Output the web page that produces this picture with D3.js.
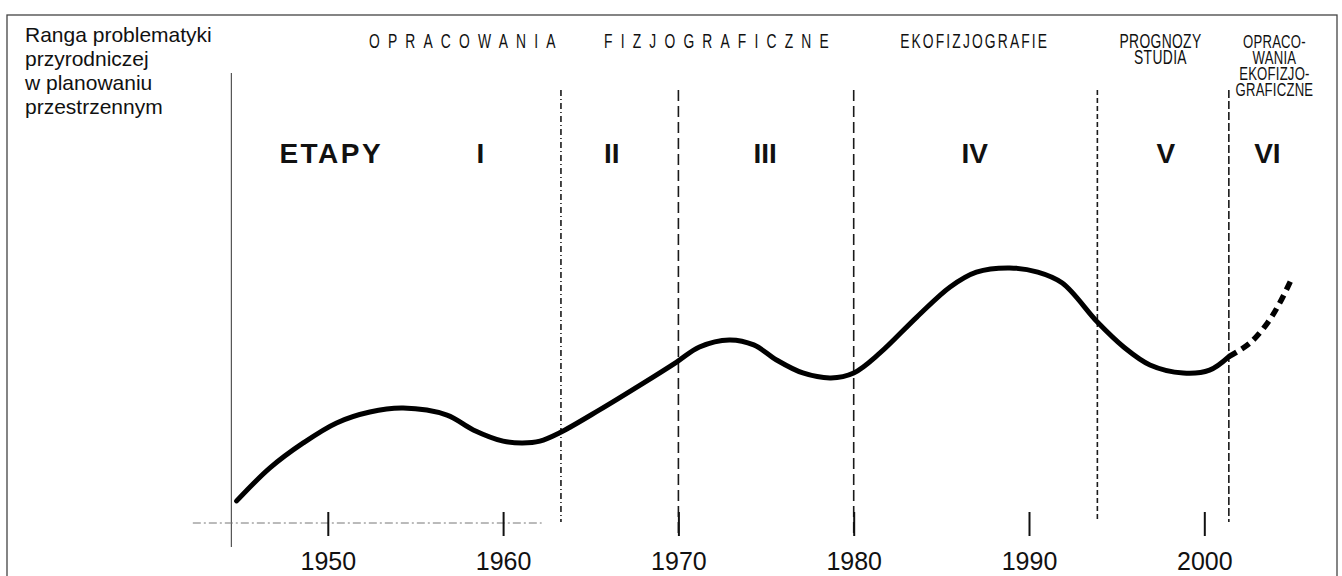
<!DOCTYPE html>
<html>
<head>
<meta charset="utf-8">
<script src="https://cdn.jsdelivr.net/npm/d3@7"></script>
<style>
  body { margin: 0; background: #fff; }
  svg { display: block; }
  text { font-family: "Liberation Sans", Arial, sans-serif; fill: #111; }
</style>
</head>
<body>
<div id="chart"></div>
<script>
// decades on the time axis
const decades = [1950, 1960, 1970, 1980, 1990, 2000];
// years where one stage ends and the next begins
const stageBounds = [1963.3, 1970, 1980, 1993.9, 2001.4];
const stageNames = ["ETAPY", "I", "II", "III", "IV", "V", "VI"];
const stageCenters = [1950.2, 1958.7, 1966.2, 1974.95, 1986.9, 1997.8, 2003.6];

// rank of nature issues in spatial planning (relative, 0-100)
const trendYears = [1944.8, 1946.7, 1948.6, 1950.5, 1952.4, 1954.3, 1956.8, 1958.3, 1960.0, 1961.1,
  1962.1, 1963.2, 1965.5, 1968.0, 1969.9, 1971.2, 1972.9, 1974.3, 1975.6, 1977.1, 1978.7, 1980.0,
  1981.5, 1983.6, 1985.5, 1987.0, 1988.9, 1990.5, 1991.9, 1993.9, 1995.4, 1996.9, 1998.8, 2000.3, 2001.4];
const trendValues = [8.5, 21.2, 30.8, 38.5, 42.7, 44.2, 41.5, 35.8, 31.5, 30.8,
  31.5, 34.6, 43.5, 53.8, 61.9, 67.7, 70.4, 68.5, 62.7, 57.7, 55.8, 57.7,
  65.4, 79.2, 90.8, 96.5, 98.1, 96.5, 92.3, 77.3, 67.7, 60.8, 57.7, 58.8, 64.0];
const forecastYears = [2001.4, 2002.6, 2003.6, 2004.3, 2005.0];
const forecastValues = [64.0, 69.2, 76.9, 84.6, 94.2];

const headerTexts = [["OPRACOWANIA"], ["FIZJOGRAFICZNE"], ["EKOFIZJOGRAFIE"],
  ["PROGNOZY", "STUDIA"], ["OPRACO-", "WANIA", "EKOFIZJO-", "GRAFICZNE"]];
const headerCenters = [1957.9, 1972.4, 1986.9, 1997.5, 2004.0];
const yLabel = ["Ranga problematyki", "przyrodniczej", "w planowaniu", "przestrzennym"];

const width = 1342, height = 576;

const svg = d3.select("#chart").append("svg")
  .attr("width", width)
  .attr("height", height);

const x = d3.scaleLinear().domain([1940, 2010]).range([152.5, 1379.6]);
const y = d3.scaleLinear().domain([0, 100]).range([523, 263]);

// frame
svg.append("rect")
  .attr("x", 7).attr("y", 15)
  .attr("width", 1330).attr("height", 600)
  .attr("fill", "none").attr("stroke", "#444").attr("stroke-width", 1.3);

// y label
svg.append("text")
  .attr("x", 25).attr("y", 42)
  .style("font-size", "21px")
  .selectAll("tspan")
  .data(yLabel)
  .enter().append("tspan")
  .attr("x", 25)
  .attr("dy", (d, i) => i ? 24 : 0)
  .text(d => d);

// vertical axis line
svg.append("line")
  .attr("x1", x(1944.5)).attr("x2", x(1944.5))
  .attr("y1", 73).attr("y2", 547)
  .attr("stroke", "#555").attr("stroke-width", 1.2);

// horizontal axis, only drawn on the left part
svg.append("line")
  .attr("x1", x(1942.3)).attr("x2", x(1962.2))
  .attr("y1", 523).attr("y2", 523)
  .attr("stroke", "#777").attr("stroke-width", 1)
  .attr("stroke-dasharray", "8,3,2,3");

// stage boundaries
const boundDash = ["6,3,1,3", "11,5", "11,5", "5,3", "8,3"];
const boundEnd = [522, 537, 537, 522, 522];
svg.selectAll(".bound")
  .data(stageBounds)
  .enter().append("line")
  .attr("class", "bound")
  .attr("x1", d => x(d)).attr("x2", d => x(d))
  .attr("y1", 90).attr("y2", (d, i) => boundEnd[i])
  .attr("stroke", "#1a1a1a").attr("stroke-width", 1.6)
  .attr("stroke-dasharray", (d, i) => boundDash[i]);

// time axis
const axis = svg.append("g")
  .attr("transform", "translate(0,512)")
  .call(d3.axisBottom(x).tickValues(decades).tickFormat(d3.format("d")).tickSize(24).tickPadding(16));
axis.select(".domain").remove();
axis.selectAll(".tick line").attr("stroke", "#111").attr("stroke-width", 2);
axis.selectAll(".tick text")
  .style("font-size", "25px")
  .style("font-family", "'Liberation Sans', Arial, sans-serif")
  .attr("fill", "#111");

// header texts (narrow lettering)
const headerSpacing = [11.5, 11.5, 3, 0.5, 0.3];
const headerLine = 16;
headerTexts.forEach((lines, gi) => {
  lines.forEach((t, li) => {
    svg.append("text")
      .attr("transform", `translate(${x(headerCenters[gi])},${48 + li * headerLine}) scale(0.71,1)`)
      .attr("text-anchor", "middle")
      .style("font-size", gi === 4 ? "18.5px" : "19.5px")
      .style("letter-spacing", headerSpacing[gi] + "px")
      .text(t);
  });
});

// stage names
svg.selectAll(".stage")
  .data(stageNames)
  .enter().append("text")
  .attr("class", "stage")
  .attr("x", (d, i) => x(stageCenters[i]))
  .attr("y", 163)
  .attr("text-anchor", "middle")
  .style("font-size", "28px")
  .style("font-weight", "bold")
  .style("letter-spacing", (d, i) => i ? "0px" : "2.5px")
  .text(d => d);

// trend curve
const line = d3.line()
  .x(d => x(d[0]))
  .y(d => y(d[1]))
  .curve(d3.curveCatmullRom.alpha(0.5));

svg.append("path")
  .datum(d3.zip(trendYears, trendValues))
  .attr("d", line)
  .attr("fill", "none")
  .attr("stroke", "#000")
  .attr("stroke-width", 5)
  .attr("stroke-linecap", "round");

svg.append("path")
  .datum(d3.zip(forecastYears, forecastValues))
  .attr("d", line)
  .attr("fill", "none")
  .attr("stroke", "#000")
  .attr("stroke-width", 5.5)
  .attr("stroke-dasharray", "9,6");
</script>
</body>
</html>
